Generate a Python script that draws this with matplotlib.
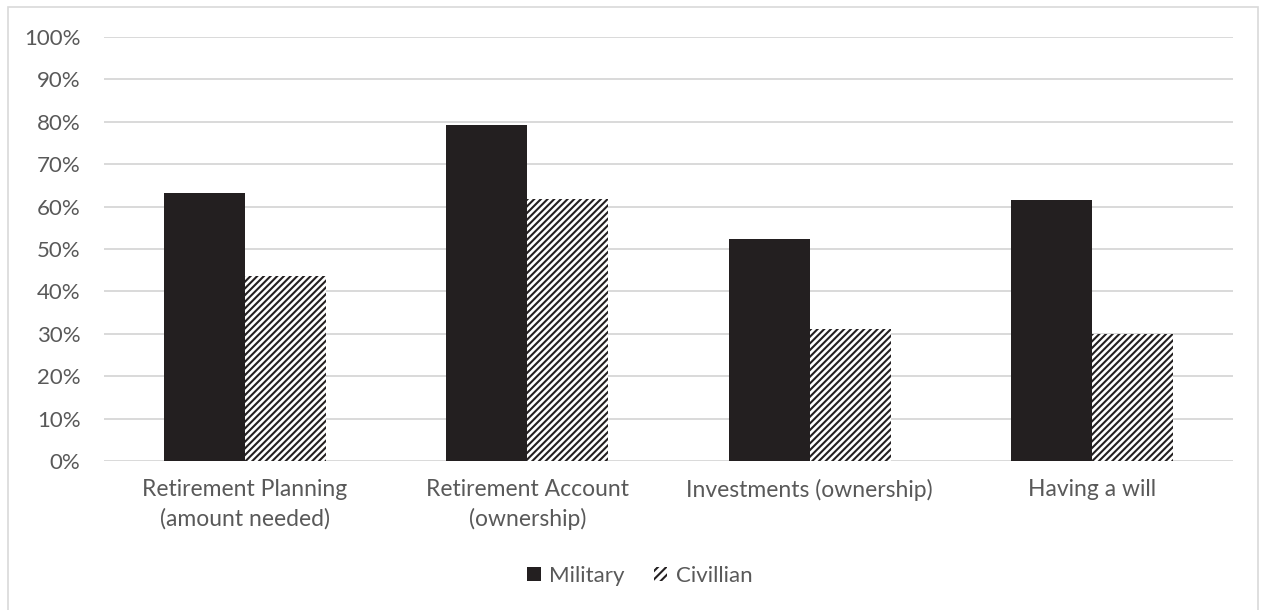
import numpy as np
import matplotlib
matplotlib.use('Agg')
import matplotlib.pyplot as plt
from matplotlib.patches import Patch, Rectangle
from matplotlib.ticker import FuncFormatter

categories = ['Retirement Planning\n(amount needed)', 'Retirement Account\n(ownership)',
              'Investments (ownership)', 'Having a will']
military = [63.2, 79.2, 52.3, 61.6]
civilian = [43.6, 61.7, 31.1, 30.0]

TEXT = '#595959'
GRID = '#d9d9d9'
DARK = '#231f20'

plt.rcParams['font.family'] = ['Lato', 'DejaVu Sans']
plt.rcParams['hatch.linewidth'] = 1.5

fig = plt.figure(figsize=(12.64, 6.10), dpi=100)
ax = fig.add_axes([104 / 1264, 1 - 461 / 610, (1233 - 104) / 1264, (461 - 37) / 610])

x = np.arange(len(categories))
w = 0.287
ax.bar(x - w / 2, military, w, color=DARK, linewidth=0, zorder=3)
ax.bar(x + w / 2, civilian, w, facecolor='white', edgecolor=DARK, hatch='/////',
       linewidth=0, zorder=3)

ax.set_xlim(-0.5, len(categories) - 0.5)
ax.set_ylim(0, 100)
ax.set_yticks(np.arange(0, 101, 10))
ax.yaxis.set_major_formatter(FuncFormatter(lambda v, _: f'{v:.0f}%'))
ax.set_xticks(x)
ax.set_xticklabels(categories, linespacing=1.45)
ax.grid(axis='y', color=GRID, linewidth=1.4, zorder=0)
for s in ax.spines.values():
    s.set_visible(False)
ax.tick_params(axis='y', length=0, pad=17, labelsize=16, labelcolor=TEXT)
ax.tick_params(axis='x', length=0, pad=13, labelsize=16.5, labelcolor=TEXT)

handles = [Patch(facecolor=DARK, edgecolor=DARK, linewidth=0),
           Patch(facecolor='white', edgecolor=DARK, hatch='////', linewidth=0)]
fig.legend(handles, ['Military', 'Civillian'], loc='center', bbox_to_anchor=(640 / 1264, 1 - 576 / 610),
           ncol=2, frameon=False, fontsize=16, labelcolor=TEXT, handlelength=0.6, handleheight=0.6,
           handletextpad=0.4, columnspacing=1.3)

# light border round the chart area
fig.patches.append(Rectangle((8 / 1264, -0.02), 1250 / 1264, 1 - 7 / 610 + 0.02, transform=fig.transFigure,
                             fill=False, edgecolor=GRID, linewidth=1.2))

fig.savefig('out.png', dpi=100)
